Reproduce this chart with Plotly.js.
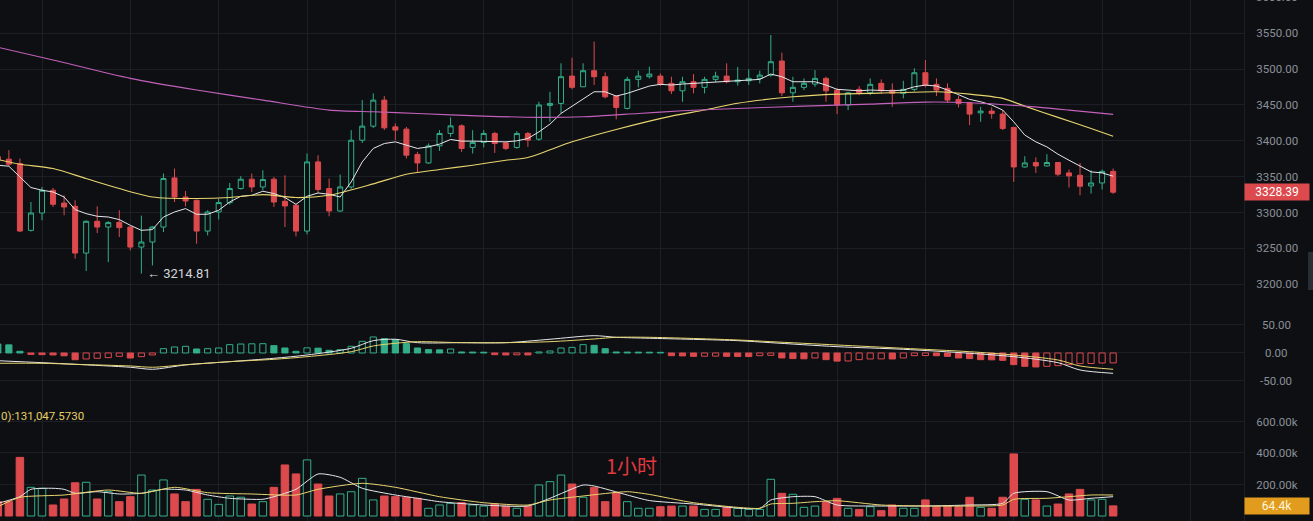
<!DOCTYPE html>
<html><head><meta charset="utf-8">
<script src="https://cdn.plot.ly/plotly-3.0.1.min.js"></script>
<style>html,body{margin:0;padding:0;background:#0e0f13;overflow:hidden;}#chart{width:1313px;height:521px;}</style>
</head><body><div id="chart"></div>
<script>
// ---------- data ----------
const firstIndex = -1; // first (partially visible) candle
const opens = [
3378, 3374.4, 3368.4, 3275.2, 3299.4, 3331.1, 3313.3, 3308.7, 3243.5, 3287.8,
3279.8, 3286.4, 3279.8, 3251.9, 3258.9, 3279.8, 3348.3, 3321.7, 3317.1, 3274.2,
3300.8, 3313.9, 3333.5, 3346.5, 3335.7, 3346.5, 3315.7, 3310.2, 3274.2, 3370.6,
3333.5, 3302.2, 3335.7, 3400.9, 3420.5, 3456.8, 3419.5, 3416.3, 3381, 3369.2,
3393, 3410.3, 3420.9, 3390.8, 3397.8, 3410.3, 3397.2, 3390.8, 3410.3, 3402.3,
3449.4, 3452.2, 3490.3, 3475.4, 3497.8, 3489.4, 3462.4, 3445.2, 3485.7, 3489.4,
3490.3, 3480.2, 3469.8, 3482.4, 3474.6, 3485.7, 3490.3, 3482.4, 3483.8, 3487.1,
3491.7, 3511.3, 3467, 3474.6, 3479.2, 3487.1, 3470.8, 3450, 3471.8, 3467,
3480.2, 3470.8, 3466.2, 3471.8, 3495, 3478.8, 3473.2, 3457.8, 3453.1, 3439,
3441.5, 3437.3, 3418.7, 3363.6, 3369.8, 3365, 3369.8, 3355.3, 3352, 3337.1,
3341.3, 3357.4];
const highs = [
3386, 3387, 3375.4, 3314.7, 3335.7, 3334.3, 3324.1, 3317.1, 3289, 3308.7,
3288, 3303.2, 3281, 3295.7, 3281, 3354.4, 3361.4, 3330.1, 3318, 3303.2,
3319.5, 3341.3, 3350.7, 3354.4, 3359, 3349.7, 3352, 3311.6, 3382.4, 3380,
3347.4, 3353, 3414.9, 3456.8, 3466.2, 3462.4, 3424.3, 3419.5, 3384.6, 3396.3,
3414.9, 3432.7, 3422.9, 3414.9, 3414.9, 3412.5, 3398.6, 3413.5, 3412.5, 3454.5,
3468.4, 3508.1, 3515.9, 3508.1, 3538.3, 3495.5, 3463.8, 3489.4, 3497.8, 3503.4,
3494, 3489.4, 3489.4, 3493.1, 3489.4, 3496.4, 3508.1, 3503, 3499.7, 3497.8,
3547.6, 3522.9, 3489.4, 3487.1, 3498.7, 3489.4, 3473.2, 3468.4, 3476.4, 3487.1,
3485.7, 3480.2, 3483.8, 3501.1, 3512.7, 3487.1, 3480.2, 3462.4, 3454.5, 3447.5,
3446.6, 3442.9, 3419.5, 3378.6, 3376.8, 3381.4, 3370.6, 3360, 3369.2, 3359,
3360, 3361.4];
const lows = [
3370, 3364.6, 3272.8, 3273.5, 3289.2, 3307.8, 3296.2, 3235.7, 3218.4, 3271.4,
3230.9, 3265.9, 3247.3, 3214.81, 3226.3, 3272.8, 3314.7, 3308.7, 3256.6, 3268.2,
3290.2, 3311, 3332, 3328.7, 3331, 3307.8, 3279.8, 3266.8, 3269.6, 3327.3,
3294.8, 3300.8, 3333, 3397, 3418, 3415, 3401, 3375.4, 3355.3, 3368,
3386, 3405.6, 3384.6, 3382.4, 3390.8, 3383.2, 3387, 3389, 3391.6, 3400,
3426.5, 3439, 3471.8, 3475, 3477.8, 3459.2, 3429.9, 3443.8, 3474.6, 3487,
3476.4, 3465.2, 3454.5, 3466.2, 3466.2, 3482, 3480.2, 3477, 3477.8, 3480.2,
3489.4, 3462.4, 3454.5, 3470.8, 3475.4, 3454.5, 3437.3, 3442.9, 3463.8, 3463.8,
3466.2, 3447.5, 3459.2, 3469, 3474.6, 3462.4, 3453.1, 3446.6, 3421.9, 3426.5,
3431, 3415, 3342.7, 3362.6, 3355.3, 3364, 3350.7, 3334.9, 3324.1, 3326.5,
3332.1, 3326];
const closes = [
3373, 3367.4, 3274.2, 3299.4, 3331.1, 3311.5, 3307.8, 3243.5, 3287.8, 3279.8,
3286, 3279, 3251.9, 3258.9, 3279.8, 3347.4, 3321.7, 3316.1, 3274.2, 3300.8,
3313.9, 3333.5, 3346.5, 3335.7, 3346, 3314.7, 3309.2, 3274.2, 3370.6, 3332.1,
3302.2, 3335.7, 3400.9, 3420.5, 3456.8, 3418.1, 3415, 3380, 3369.2, 3393,
3410.3, 3420.9, 3389.4, 3397.8, 3410.3, 3396.3, 3389.4, 3410.3, 3401, 3450,
3452.2, 3489.4, 3474.6, 3497.8, 3489.4, 3461.4, 3446.6, 3485.7, 3490.3, 3493.1,
3479.2, 3469.8, 3482.4, 3474.6, 3485.7, 3490.3, 3482.4, 3484.8, 3487.1, 3491.7,
3510.3, 3467, 3474.6, 3480.2, 3487.1, 3469.8, 3450, 3467, 3467, 3478.8,
3469.8, 3466.2, 3471.8, 3495, 3477.8, 3470.8, 3456.8, 3452.2, 3437.3, 3441.5,
3438, 3417.3, 3363.6, 3369.2, 3365, 3369.8, 3353.5, 3351.1, 3336.7, 3341.3,
3357.4, 3328.39];
// volume in thousands
const volumes = [
91, 91, 372, 182, 176, 70, 108, 211, 214, 108,
154, 91, 123, 260, 165, 229, 140, 91, 169, 106,
74, 127, 119, 76, 91, 182, 324, 267, 356, 203,
127, 140, 154, 239, 102, 127, 123, 119, 112, 49,
70, 80, 85, 70, 63, 76, 63, 49, 63, 197,
218, 260, 203, 119, 182, 91, 148, 91, 49, 49,
59, 63, 63, 63, 42, 42, 55, 49, 42, 42,
233, 144, 138, 55, 63, 91, 112, 49, 42, 59,
34, 70, 49, 49, 102, 59, 63, 59, 119, 55,
49, 119, 394, 106, 102, 63, 76, 140, 169, 102,
106, 64.4];
const ma7 = [
3366, 3364.6, 3349.7, 3334.9, 3331.1, 3328.7, 3321.7, 3304.1, 3298.5, 3294.8,
3293.8, 3290.2, 3282.2, 3275.2, 3276.2, 3293.8, 3300.8, 3305.5, 3297.6, 3297.6,
3303.2, 3314.7, 3322.7, 3324.1, 3329.7, 3326.5, 3320.9, 3311.5, 3322.7, 3327.3,
3325.5, 3321.7, 3342.7, 3370.6, 3389.4, 3396.3, 3398.6, 3394, 3389.4, 3391.6,
3395.4, 3401.9, 3399.6, 3399.6, 3399.6, 3399.6, 3398.6, 3400, 3403.3, 3412.5,
3423.3, 3438.2, 3448.4, 3459.2, 3468.4, 3468.4, 3462.4, 3466.2, 3471.8, 3476.4,
3478.8, 3477.8, 3479.2, 3480.2, 3481, 3482.4, 3483.4, 3483.8, 3484.8, 3485.7,
3493.1, 3489.4, 3482.4, 3482.4, 3482.4, 3477.8, 3471.8, 3470.8, 3469.8, 3470.8,
3469.8, 3469.8, 3470.8, 3475.4, 3477.8, 3476.4, 3470.8, 3463.8, 3457.8, 3454.5,
3450, 3442.9, 3426.5, 3408, 3398.6, 3391.6, 3381.4, 3373, 3364.6, 3356.7,
3355.3, 3350.7];
const ma30Idx = [-1,1,4,7,10,13,17,20,23,26,29,33,36,39,42,45,47,51,55,60,63,66,71,75,80,84,87,90,92,95,98,100];
const ma30 = [3374,3367.4,3361.4,3347.4,3333.5,3321.7,3319.5,3320.9,3325,3320.9,3324.1,3340,3353.5,3360,3366,3373,3376.8,3398.6,3415.9,3434.5,3442.9,3452.5,3461.4,3465.2,3467,3468.4,3465.2,3459.2,3448.4,3432.7,3417.3,3406.5];
const ma99Idx = [-1,4,11,17,23,29,33,37,43,48,52,57,61,66,72,78,83,87,92,96,100];
const ma99 = [3530.6,3512.7,3487.1,3470.8,3456.8,3442.9,3440.5,3438.2,3434.5,3432.7,3433.5,3438.2,3441.9,3445.2,3448.4,3451.2,3454,3453.1,3448.4,3442.9,3436.9];
const macdHist = [
16, 14.5, 3, -2.5, -3, -3.5, -5, -12, -10.7, -9.5,
-8.3, -6, -9, -6.5, -3.5, 7.7, 10.7, 11.9, 7.1, 7.7,
8.9, 14.9, 16, 16.4, 16.6, 13.1, 8.9, 3, 9.2, 8.6,
4.8, 6, 11.9, 20.8, 28.6, 25.6, 23.8, 16.7, 8.9, 6,
5.6, 7.1, 1.8, 1.6, 1.4, -3, -3.5, -3.2, -3.5, 1.8,
3.6, 8.9, 10, 14.9, 13.7, 7.7, 1.8, 1.6, 1.5, 1.4,
1.2, -4.8, -5.2, -6, -5.8, -5.6, -6, -6.2, -6.4, -4.8,
-4.2, -8.9, -10, -10.4, -8.9, -11.9, -14.5, -14.3, -11.9, -10.7,
-10.5, -10.7, -8.9, -4.8, -4.6, -4.9, -6, -8.9, -10, -11.9,
-12.2, -13.1, -20.8, -23.8, -25, -23.8, -22.6, -20.8, -19, -18.8,
-17.9, -17.7];
const macdLineIdx = [-1,3,6,11,13,16,20,24,27,31,33,35,37,41,45,49,53,55,58,66,69,75,81,87,91,95,97,100];
const dif = [-13.8,-17.3,-20.2,-25.5,-29.1,-21.4,-15.5,-9.5,-3.6,8.4,22,24.5,18.4,18.4,18.4,24.5,30.9,28,26.3,22,18.4,11.3,6.6,-0.5,-6.6,-17.3,-30.4,-36.3];
const dea = [-18.4,-18.4,-20.2,-23.2,-25.5,-20.9,-15.5,-11.3,-6.6,2.3,12.5,17.3,20.2,18.4,18.4,20.2,25,28,28,23.2,20.2,14.3,8.4,2.3,-3.6,-12.5,-23.2,-29.1];
const volMaWIdx = [-1,1,2,4,5,6,8,10,12,14,16,18,20,23,24,26,28,30,32,35,37,39,43,47,49,52,53,56,58,62,68,69,71,73,75,79,83,87,90,91,94,96,98,100];
const volMaW = [80.6,122.5,169.5,175.9,169.5,144.1,154.3,139.7,144.1,169.5,165,133.3,112.4,106,122.5,169.5,266.7,245.7,175.9,133.3,112.4,90.8,69.8,63.5,112.4,196.8,190.5,133.3,98,76.2,48.9,101.6,122.5,122.5,69.8,63.5,63.5,69.8,80.6,144.1,154.3,101.6,112.4,122.5];
const volMaYIdx = [-1,1,5,9,12,15,18,22,26,28,32,35,39,43,47,49,52,56,58,62,68,69,71,73,75,79,83,87,90,91,94,96,98,100];
const volMaY = [59,118.7,133.3,165,144.1,182.2,147.9,139.7,133.3,169.5,207.6,182.2,122.5,84.4,69.8,101.6,127,154.3,137,84.4,48.9,76.2,80.6,90.8,97.1,69.8,63.5,63.5,69.8,106,112.4,122.5,133.3,133.3];
const priceTicks = [3200, 3250, 3300, 3350, 3400, 3450, 3500, 3550];
const priceTopLabel = 3600;
const macdTicks = [-50, 0, 50];
const volTicks = [200, 400, 600];
const lowIndex = 12, lowPrice = 3214.81;
const lastPrice = 3328.39, lastVolumeText = '64.4k', lastVolume = 64.4;
const volInfoText = '0):131,047.5730';
const periodText = '1小时';

// ---------- styles ----------
const BG = '#0e0f13', GRID = '#1c1f25', RED = '#dc4a4e', GREEN = '#33ae88';
const AX = '#8a8f98';
const FONT = 'Roboto, "Noto Sans", Arial, sans-serif';

const priceRange = [3171.1, 3596.4];
const priceDomain = [0.4146, 1];

const xs = opens.map((_, k) => k + firstIndex);
const isUp = opens.map((o, k) => closes[k] >= o);

const traces = [];
traces.push({
  type: 'candlestick', x: xs, open: opens, high: highs, low: lows, close: closes,
  xaxis: 'x', yaxis: 'y', hoverinfo: 'skip', whiskerwidth: 0,
  increasing: {line: {color: GREEN, width: 1}, fillcolor: BG},
  decreasing: {line: {color: RED, width: 1}, fillcolor: RED}
});
traces.push({type:'scatter', mode:'lines', x: xs, y: ma7, line:{color:'#e6e7ea', width:1}, xaxis:'x', yaxis:'y', hoverinfo:'skip'});
traces.push({type:'scatter', mode:'lines', x: ma30Idx, y: ma30, line:{color:'#e8d56f', width:1.1, shape:'spline', smoothing:0.7}, xaxis:'x', yaxis:'y', hoverinfo:'skip'});
traces.push({type:'scatter', mode:'lines', x: ma99Idx, y: ma99, line:{color:'#c261bb', width:1.1, shape:'spline', smoothing:0.7}, xaxis:'x', yaxis:'y', hoverinfo:'skip'});

// MACD histogram: hollow when rising, filled when falling
const histLine = macdHist.map(v => v >= 0 ? GREEN : RED);
const histFill = macdHist.map((v, k) => (k > 0 && v >= macdHist[k-1]) ? BG : (v >= 0 ? GREEN : RED));
traces.push({type:'bar', x: xs, y: macdHist, width: 0.56, xaxis:'x', yaxis:'y2', hoverinfo:'skip',
  marker:{color: histFill, line:{color: histLine, width: 1}}});
traces.push({type:'scatter', mode:'lines', x: macdLineIdx, y: dif, line:{color:'#e6e7ea', width:1, shape:'spline', smoothing:0.8}, xaxis:'x', yaxis:'y2', hoverinfo:'skip'});
traces.push({type:'scatter', mode:'lines', x: macdLineIdx, y: dea, line:{color:'#e8d56f', width:1, shape:'spline', smoothing:0.8}, xaxis:'x', yaxis:'y2', hoverinfo:'skip'});

// Volume
traces.push({type:'bar', x: xs, y: volumes, width: 0.68, xaxis:'x', yaxis:'y3', hoverinfo:'skip',
  marker:{color: isUp.map(u => u ? BG : RED), line:{color: isUp.map(u => u ? GREEN : RED), width: 1}}});
traces.push({type:'scatter', mode:'lines', x: volMaWIdx, y: volMaW, line:{color:'#e6e7ea', width:1, shape:'spline', smoothing:0.6}, xaxis:'x', yaxis:'y3', hoverinfo:'skip'});
traces.push({type:'scatter', mode:'lines', x: volMaYIdx, y: volMaY, line:{color:'#e8d56f', width:1, shape:'spline', smoothing:0.6}, xaxis:'x', yaxis:'y3', hoverinfo:'skip'});

// paper position of the (clipped) top price label, derived from the price axis scale
const topLabelPaperY = priceDomain[0] + (priceDomain[1] - priceDomain[0]) * (priceTopLabel - priceRange[0]) / (priceRange[1] - priceRange[0]);

const tickFont = {family: FONT, size: 11.5, color: AX};
const annotations = [
  {xref:'x', yref:'y', x: lowIndex, y: lowPrice, text: '← ' + lowPrice.toFixed(2), showarrow:false, xanchor:'left', yanchor:'middle', xshift: 4, font:{family:FONT, size:13, color:'#d2d5da'}},
  {xref:'paper', yref:'paper', x: 1, y: topLabelPaperY, text: priceTopLabel.toFixed(2), showarrow:false, xanchor:'left', yanchor:'middle', xshift: 10, font: tickFont},
  {xref:'paper', yref:'y', x: 1, y: lastPrice, text: lastPrice.toFixed(2), showarrow:false, xanchor:'left', yanchor:'middle',
    bgcolor: RED, width: 60, height: 12, borderpad: 2, align:'center', font:{family:FONT, size:12, color:'#ffffff'}},
  {xref:'paper', yref:'y3', x: 1, y: lastVolume, text: lastVolumeText, showarrow:false, xanchor:'left', yanchor:'middle',
    bgcolor: '#e19b1d', width: 60, height: 12, borderpad: 2, align:'center', font:{family:FONT, size:12, color:'#fff6dc'}},
  {xref:'paper', yref:'paper', x: 0, y: 0.2015, text: volInfoText, showarrow:false, xanchor:'left', yanchor:'middle', xshift:-1, font:{family:FONT, size:11.5, color:'#e6d064'}},
  {xref:'paper', yref:'paper', x: 0.508, y: 0.1056, text: periodText, showarrow:false, xanchor:'center', yanchor:'middle', font:{family:'"Noto Sans CJK SC", "Noto Sans", sans-serif', size:20, color:'#e0393e'}}
];
macdTicks.forEach(v => annotations.push({xref:'paper', yref:'y2', x: 1, y: v, xshift: 32, text: v.toFixed(2), showarrow:false, xanchor:'center', yanchor:'middle', font: tickFont}));

const layout = {
  width: 1313, height: 521, margin: {l:0, r:69, t:0, b:0},
  paper_bgcolor: BG, plot_bgcolor: BG, showlegend: false, boxgap: 0.35, bargap: 0,
  xaxis: {range: [-0.803, 111.85], showticklabels: false, tick0: 3, dtick: 8, showgrid: true, gridcolor: GRID, gridwidth: 1,
    zeroline: false, showline: false, ticks: '', rangeslider: {visible: false}, anchor: 'y3', fixedrange: true},
  yaxis: {domain: priceDomain, range: priceRange, side: 'right', anchor: 'x', tickvals: priceTicks,
    ticktext: priceTicks.map(v => v.toFixed(2)), gridcolor: GRID, zeroline: false, showline: true, linecolor: GRID,
    ticks: '', ticklabelstandoff: 9, tickfont: tickFont, fixedrange: true},
  yaxis2: {domain: [0.2323, 0.4146], range: [-83.9, 85.7], side: 'right', anchor: 'x', tickvals: macdTicks,
    showticklabels: false, gridcolor: GRID, zeroline: false, showline: true, linecolor: GRID, ticks: '', fixedrange: true},
  yaxis3: {domain: [0, 0.2323], range: [-31.7, 736.5], side: 'right', anchor: 'x', tickvals: volTicks,
    ticktext: volTicks.map(v => v.toFixed(2) + 'k'), gridcolor: GRID, zeroline: false, showline: true, linecolor: GRID,
    ticks: '', ticklabelstandoff: 9, tickfont: tickFont, fixedrange: true},
  annotations: annotations,
  shapes: [
    {type:'rect', xref:'paper', yref:'paper', x0: 1.0515, x1: 1.06, y0: 0.4434, y1: 0.5163, fillcolor:'#2a2e35', line:{width:0}}
  ]
};

Plotly.newPlot('chart', traces, layout, {staticPlot: true, displayModeBar: false});
</script>
</body></html>
